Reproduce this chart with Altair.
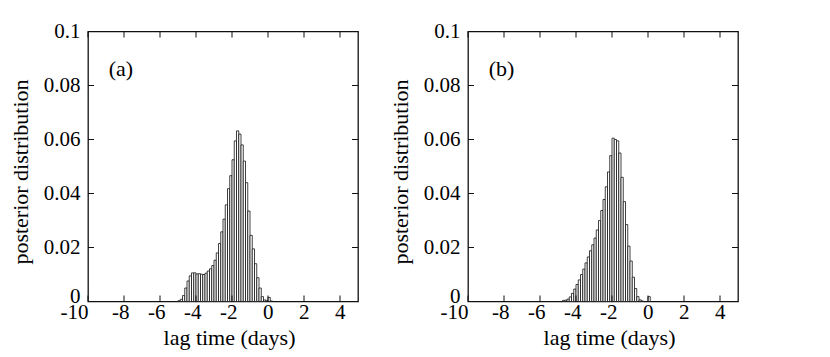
import altair as alt
import pandas as pd

# ---------------- data ----------------
BIN = 0.125
a_first_edge = -5.0
a_values = [0.0003, 0.0008, 0.0022, 0.0050, 0.0076, 0.0095, 0.0106, 0.0106, 0.0102, 0.0103,
            0.0101, 0.0100, 0.0105, 0.0113, 0.0121, 0.0133, 0.0153, 0.0180, 0.0215, 0.0258,
            0.0305, 0.0358, 0.0418, 0.0466, 0.0525, 0.0595, 0.0632, 0.0620, 0.0580, 0.0520,
            0.0440, 0.0335, 0.0245, 0.0195, 0.0140, 0.0088, 0.0050, 0.0018, 0.0006, 0.0003,
            0.0015, 0.0002]
b_first_edge = -4.75
b_values = [0.0004, 0.0005, 0.0009, 0.0017, 0.0030, 0.0046, 0.0063, 0.0080, 0.0100, 0.0120,
            0.0143, 0.0165, 0.0188, 0.0210, 0.0235, 0.0265, 0.0300, 0.0337, 0.0378, 0.0425,
            0.0480, 0.0540, 0.0605, 0.0600, 0.0595, 0.0550, 0.0460, 0.0370, 0.0285, 0.0205,
            0.0150, 0.0090, 0.0048, 0.0018, 0.0006, 0.0002, 0.0, 0.0, 0.0018]
x_ticks = [-10, -8, -6, -4, -2, 0, 2, 4]
y_ticks = [0, 0.02, 0.04, 0.06, 0.08, 0.1]
panel_labels = ["(a)", "(b)"]
x_title = "lag time (days)"
y_title = "posterior distribution"

FONT = "Liberation Serif"
W = H = 270
TICK = 6
INK = "#111111"

xscale = alt.Scale(domain=[-10, 5], nice=False, zero=False)
yscale = alt.Scale(domain=[0, 0.1], nice=False)

x_axis = alt.Axis(
    values=x_ticks, title=x_title, ticks=False, domain=False, grid=False,
    labelFont=FONT, labelFontSize=21, labelColor="black", labelPadding=0,
    labelFlush=False, labelOverlap=False,
    labelExpr="datum.value < 0 ? '-' + abs(datum.value) : '' + datum.value",
    labelAlign="right",
    labelOffset={"condition": {"test": "datum.value == -10", "value": 0}, "value": 5},
    titleFont=FONT, titleFontSize=22, titleFontWeight="normal", titleColor="black",
    titleX=141, titleY=43, titleBaseline="alphabetic", titleAlign="center",
)
y_axis = alt.Axis(
    values=y_ticks, title=y_title, ticks=False, domain=False, grid=False,
    labelFont=FONT, labelFontSize=21, labelColor="black", labelPadding=8,
    labelFlush=False, labelOverlap=False, format=".2~f",
    labelOffset={"condition": {"test": "datum.value == 0", "value": -5}, "value": 0},
    titleFont=FONT, titleFontSize=22, titleFontWeight="normal", titleColor="black",
    titleX=-68, titleY=140, titleBaseline="middle", titleAlign="center", titleAngle=270,
)


def hist_df(first, vals):
    rows = []
    for i, v in enumerate(vals):
        if v > 0:
            lo = first + i * BIN
            rows.append({"lo": lo, "hi": lo + BIN, "p": v})
    return pd.DataFrame(rows)


def panel(first, vals, label):
    df = hist_df(first, vals)
    bars = alt.Chart(df).mark_bar(fill="white", stroke=INK, strokeWidth=0.8).encode(
        x=alt.X("lo:Q", scale=xscale, axis=x_axis),
        x2="hi:Q",
        y=alt.Y("p:Q", scale=yscale, axis=y_axis),
        y2=alt.datum(0),
    )
    xt = pd.DataFrame({"t": x_ticks})
    yt = pd.DataFrame({"t": y_ticks})
    bottom = alt.Chart(xt).mark_rule(color=INK, strokeWidth=1).encode(
        x=alt.X("t:Q", scale=xscale, axis=x_axis), y=alt.value(H), y2=alt.value(H - TICK))
    top = alt.Chart(xt).mark_rule(color=INK, strokeWidth=1).encode(
        x=alt.X("t:Q", scale=xscale, axis=x_axis), y=alt.value(0), y2=alt.value(TICK))
    left = alt.Chart(yt).mark_rule(color=INK, strokeWidth=1).encode(
        y=alt.Y("t:Q", scale=yscale, axis=y_axis), x=alt.value(0), x2=alt.value(TICK))
    right = alt.Chart(yt).mark_rule(color=INK, strokeWidth=1).encode(
        y=alt.Y("t:Q", scale=yscale, axis=y_axis), x=alt.value(W), x2=alt.value(W - TICK))
    txt = alt.Chart(pd.DataFrame({"label": [label]})).mark_text(
        align="left", baseline="middle", font=FONT, fontSize=22, color="black"
    ).encode(
        x=alt.datum(-8.85, scale=xscale, axis=x_axis),
        y=alt.datum(0.086, scale=yscale, axis=y_axis),
        text="label:N")
    return alt.layer(bars, bottom, top, left, right, txt).properties(width=W, height=H)


pa = panel(a_first_edge, a_values, panel_labels[0])
pb = panel(b_first_edge, b_values, panel_labels[1])

chart = alt.hconcat(pa, pb, spacing=110, bounds="flush").properties(
    padding={"left": 0, "top": 11.5, "right": 0, "bottom": 0},
    background="white",
).configure_view(stroke=INK, strokeWidth=1.3)

chart.save("out.html", embed_options={"renderer": "svg", "actions": False})
